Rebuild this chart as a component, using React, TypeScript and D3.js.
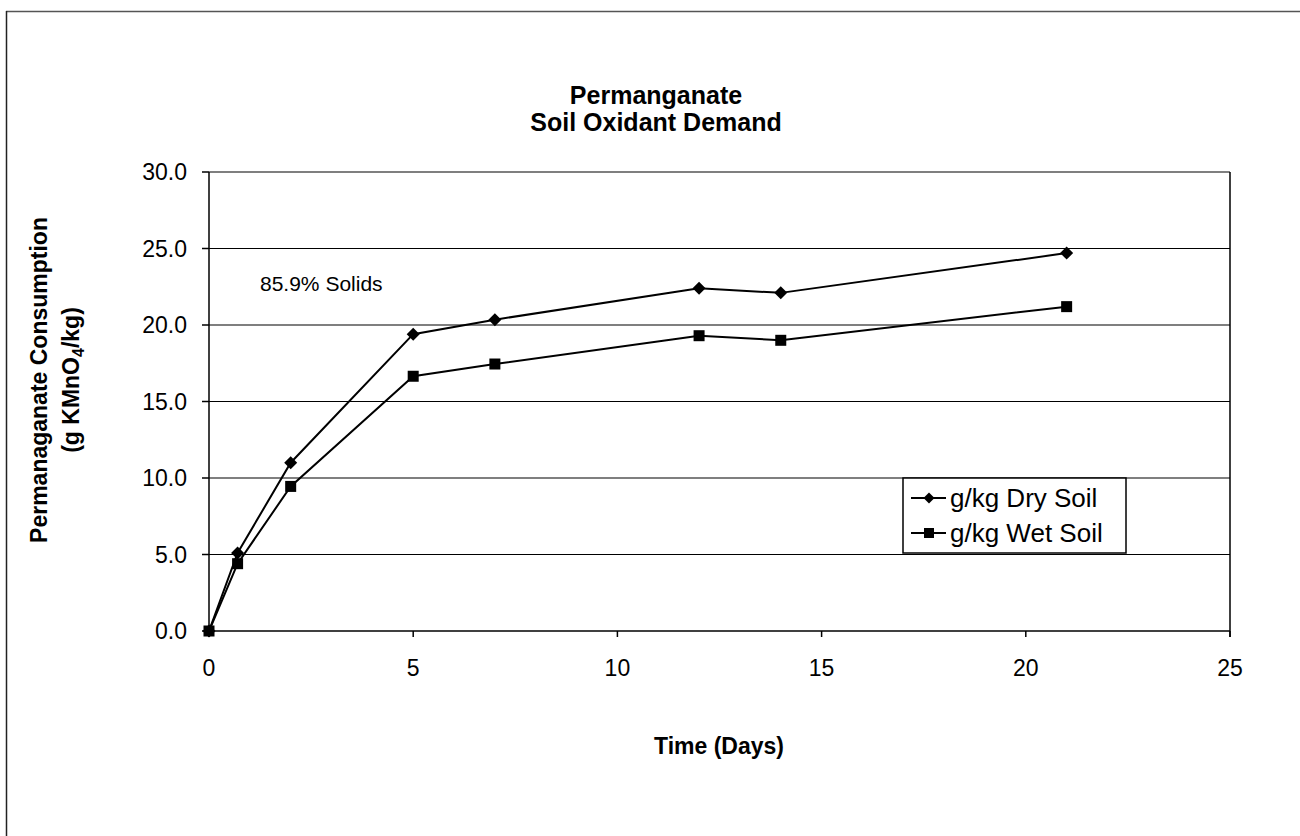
import React from "react";
import * as d3 from "d3";

const days = [0, 0.7, 2, 5, 7, 12, 14, 21];
const drySoil = [0, 5.1, 11.0, 19.4, 20.35, 22.4, 22.1, 24.7];
const wetSoil = [0, 4.4, 9.45, 16.65, 17.45, 19.3, 19.0, 21.2];
const xTicks = [0, 5, 10, 15, 20, 25];
const yTicks = [0, 5, 10, 15, 20, 25, 30];
const seriesNames = ["g/kg Dry Soil", "g/kg Wet Soil"];

const FONT = "'Liberation Sans', Arial, sans-serif";

export default function App() {
  const W = 1300, H = 836;
  const left = 209, right = 1230, top = 172, bottom = 631;
  const x = d3.scaleLinear().domain([0, 25]).range([left, right]);
  const y = d3.scaleLinear().domain([0, 30]).range([bottom, top]);
  const line = d3.line<[number, number]>().x(d => x(d[0])).y(d => y(d[1]));
  const dryPts: [number, number][] = days.map((d, i) => [d, drySoil[i]]);
  const wetPts: [number, number][] = days.map((d, i) => [d, wetSoil[i]]);

  const diamond = (cx: number, cy: number, r = 6.5) =>
    `M${cx},${cy - r}L${cx + r},${cy}L${cx},${cy + r}L${cx - r},${cy}Z`;

  const legX = 903, legY = 478, legW = 223, legH = 75;
  const legRows = [498, 533];

  return (
    <svg width={W} height={H} style={{ position: "absolute", left: 0, top: 0, background: "#fff" }}>
      {/* outer chart border */}
      <line x1={6} y1={11.5} x2={1300} y2={11.5} stroke="#555" strokeWidth={1.5} />
      <line x1={6.5} y1={11} x2={6.5} y2={836} stroke="#222" strokeWidth={1.5} />

      {/* title */}
      <text x={656} y={104} textAnchor="middle" fontFamily={FONT} fontWeight="bold" fontSize={25}>Permanganate</text>
      <text x={656} y={131} textAnchor="middle" fontFamily={FONT} fontWeight="bold" fontSize={25}>Soil Oxidant Demand</text>

      {/* gridlines */}
      {yTicks.filter(t => t > 0).map(t => (
        <line key={t} x1={left} x2={right} y1={y(t)} y2={y(t)} stroke="#000" strokeWidth={1.2} />
      ))}
      {/* right border */}
      <line x1={right} x2={right} y1={top} y2={bottom + 6} stroke="#000" strokeWidth={1.5} />
      {/* axes */}
      <line x1={left} x2={left} y1={top} y2={bottom} stroke="#000" strokeWidth={1.5} />
      <line x1={left} x2={right} y1={bottom} y2={bottom} stroke="#000" strokeWidth={1.5} />

      {yTicks.map(t => (
        <g key={t}>
          <line x1={left - 7} x2={left} y1={y(t)} y2={y(t)} stroke="#000" strokeWidth={1.5} />
          <text x={187} y={y(t) + 8} textAnchor="end" fontFamily={FONT} fontSize={23}>{t.toFixed(1)}</text>
        </g>
      ))}
      {xTicks.map(t => (
        <g key={t}>
          <line x1={x(t)} x2={x(t)} y1={bottom} y2={bottom + 6} stroke="#000" strokeWidth={1.5} />
          <text x={x(t)} y={676} textAnchor="middle" fontFamily={FONT} fontSize={23}>{t}</text>
        </g>
      ))}

      {/* axis titles */}
      <text x={719} y={754} textAnchor="middle" fontFamily={FONT} fontWeight="bold" fontSize={23}>Time (Days)</text>
      <g transform="translate(47,380) rotate(-90)">
        <text x={0} y={0} textAnchor="middle" fontFamily={FONT} fontWeight="bold" fontSize={23}>Permanaganate Consumption</text>
        <text x={0} y={32} textAnchor="middle" fontFamily={FONT} fontWeight="bold" fontSize={23}>
          (g KMnO<tspan fontSize={16} dy={5}>4</tspan><tspan dy={-5}>/kg)</tspan>
        </text>
      </g>

      <text x={260} y={291} fontFamily={FONT} fontSize={21}>85.9% Solids</text>

      {/* series */}
      <path d={line(dryPts) || ""} fill="none" stroke="#000" strokeWidth={2} />
      <path d={line(wetPts) || ""} fill="none" stroke="#000" strokeWidth={2} />
      {dryPts.map((p, i) => (
        <path key={"d" + i} d={diamond(x(p[0]), y(p[1]))} fill="#000" />
      ))}
      {wetPts.map((p, i) => (
        <rect key={"w" + i} x={x(p[0]) - 5.5} y={y(p[1]) - 5.5} width={11} height={11} fill="#000" />
      ))}

      {/* legend */}
      <rect x={legX} y={legY} width={legW} height={legH} fill="#fff" stroke="#000" strokeWidth={1.5} />
      {seriesNames.map((n, i) => {
        const cy = legRows[i];
        return (
          <g key={n}>
            <line x1={911} x2={946} y1={cy} y2={cy} stroke="#000" strokeWidth={2} />
            {i === 0 ? (
              <path d={diamond(929, cy, 5.5)} fill="#000" />
            ) : (
              <rect x={924} y={cy - 5} width={10} height={10} fill="#000" />
            )}
            <text x={950} y={cy + 9} fontFamily={FONT} fontSize={26}>{n}</text>
          </g>
        );
      })}
    </svg>
  );
}
